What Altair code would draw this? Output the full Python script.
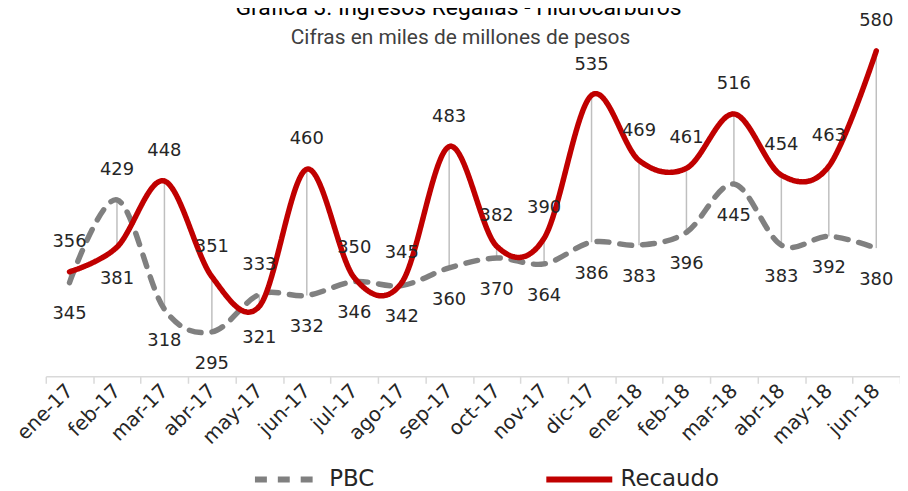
import altair as alt
import pandas as pd

meses = ["ene-17", "feb-17", "mar-17", "abr-17", "may-17", "jun-17", "jul-17", "ago-17",
         "sep-17", "oct-17", "nov-17", "dic-17", "ene-18", "feb-18", "mar-18", "abr-18",
         "may-18", "jun-18"]
pbc = [345, 429, 318, 295, 333, 332, 346, 342, 360, 370, 364, 386, 383, 396, 445, 383, 392, 380]
recaudo = [356, 381, 448, 351, 321, 460, 350, 345, 483, 382, 390, 535, 469, 461, 516, 454, 463, 580]
series = ["PBC", "Recaudo"]
colores = ["#808080", "#C00000"]
titulo = "Gráfica 3. Ingresos Regalías - Hidrocarburos"
subtitulo = "Cifras en miles de millones de pesos"

FONT = "DejaVu Sans"

wide = pd.DataFrame({"mes": meses, "PBC": pbc, "Recaudo": recaudo})
rows = []
for i, m in enumerate(meses):
    for s, v, o in (("PBC", pbc[i], recaudo[i]), ("Recaudo", recaudo[i], pbc[i])):
        rows.append({"mes": m, "serie": s, "valor": v, "pos": "arriba" if v >= o else "abajo"})
long = pd.DataFrame(rows)

xscale = alt.Scale(type="band", domain=meses, paddingInner=0, paddingOuter=0)
yscale = alt.Scale(domain=[250, 600], nice=False, zero=False)

x = alt.X("mes:N", sort=meses, scale=xscale,
          axis=alt.Axis(title=None, labelAngle=315, labelAlign="right", labelBaseline="middle",
                        tickBand="extent", labelFont=FONT, labelFontSize=20, labelColor="#262626",
                        labelPadding=4, domainColor="#D9D9D9", domainWidth=1.5,
                        tickColor="#D9D9D9", tickWidth=1.5, tickSize=7, grid=False))

rules = alt.Chart(wide).mark_rule(color="#BFBFBF", strokeWidth=1.5).encode(
    x=x,
    y=alt.Y("PBC:Q", scale=yscale, axis=None),
    y2="Recaudo:Q",
)

lines = alt.Chart(long).mark_line(interpolate="cardinal", strokeWidth=5.5, strokeCap="round").encode(
    x=x,
    y=alt.Y("valor:Q", scale=yscale, axis=None),
    color=alt.Color("serie:N", scale=alt.Scale(domain=series, range=colores),
                    legend=alt.Legend(title=None, orient="none", legendX=207, legendY=414,
                                      direction="horizontal", symbolType="stroke",
                                      symbolSize=4400, symbolStrokeWidth=6,
                                      labelFont=FONT, labelFontSize=23, labelColor="#262626",
                                      labelOffset=5, columnPadding=160)),
    strokeDash=alt.StrokeDash("serie:N", scale=alt.Scale(domain=series, range=[[12, 11], [1, 0]]),
                              legend=None),
)

lab_up = alt.Chart(long).transform_filter(alt.datum.pos == "arriba").mark_text(
    dy=-30, font=FONT, fontSize=18, color="#262626").encode(
    x=x, y=alt.Y("valor:Q", scale=yscale, axis=None), text="valor:Q")

lab_dn = alt.Chart(long).transform_filter(alt.datum.pos == "abajo").mark_text(
    dy=32, font=FONT, fontSize=18, color="#262626").encode(
    x=x, y=alt.Y("valor:Q", scale=yscale, axis=None), text="valor:Q")

t1 = alt.Chart(pd.DataFrame({"t": [titulo]})).mark_text(
    font="Roboto", fontSize=23, color="#000000", baseline="alphabetic").encode(
    text="t:N", x=alt.value(415), y=alt.value(-16))
t2 = alt.Chart(pd.DataFrame({"t": [subtitulo]})).mark_text(
    font="Roboto", fontSize=21, color="#404040", baseline="alphabetic").encode(
    text="t:N", x=alt.value(417), y=alt.value(13))

chart = alt.layer(rules, lines, lab_up, lab_dn, t1, t2).properties(
    width=859, height=347,
    autosize=alt.AutoSizeParams(type="none"),
    padding={"left": 38, "top": 22, "right": 0, "bottom": 114},
).configure_view(stroke=None)

chart.save("out.html", embed_options={"renderer": "svg", "actions": False})
